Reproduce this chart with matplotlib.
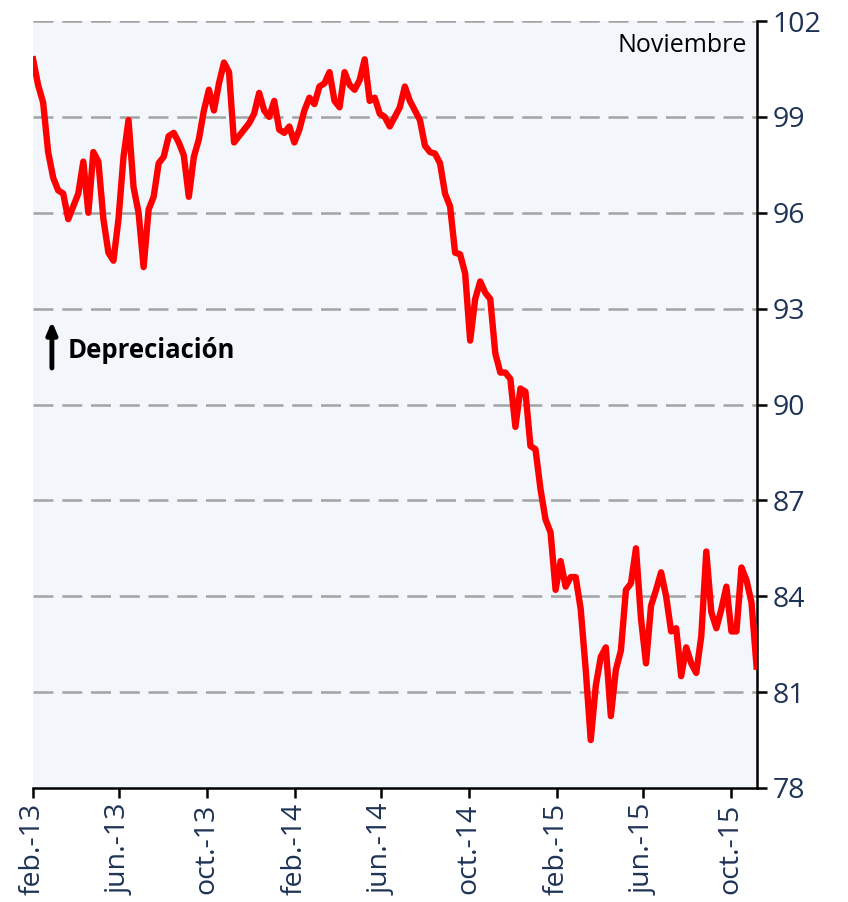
import pandas as pd
import numpy as np
import matplotlib
matplotlib.use('Agg')
import matplotlib.pyplot as plt

# Valores semanales (indice, base 100)
inicio = '2013-02-01'
valores = [
    100.8, 100.0, 99.45, 97.9, 97.1, 96.7, 96.6, 95.8, 96.2, 96.6,
    97.6, 96.0, 97.9, 97.6, 95.8, 94.75, 94.5, 95.8, 97.75, 98.9,
    96.8, 96.0, 94.3, 96.1, 96.5, 97.55, 97.75, 98.4, 98.5, 98.2,
    97.8, 96.5, 97.75, 98.3, 99.2, 99.85, 99.2, 100.05, 100.7, 100.4,
    98.2, 98.4, 98.6, 98.8, 99.1, 99.75, 99.2, 99.0, 99.5, 98.6,
    98.5, 98.7, 98.2, 98.6, 99.2, 99.6, 99.4, 99.95, 100.05, 100.4,
    99.5, 99.3, 100.4, 100.0, 99.85, 100.15, 100.8, 99.5, 99.6, 99.1,
    99.0, 98.7, 99.0, 99.3, 99.95, 99.5, 99.2, 98.9, 98.1, 97.9,
    97.85, 97.55, 96.6, 96.2, 94.75, 94.7, 94.1, 92.0, 93.3, 93.85,
    93.5, 93.3, 91.6, 91.0, 91.0, 90.8, 89.3, 90.5, 90.4, 88.7,
    88.6, 87.35, 86.4, 86.0, 84.2, 85.1, 84.3, 84.6, 84.6, 83.6,
    81.7, 79.5, 81.2, 82.1, 82.4, 80.25, 81.7, 82.3, 84.2, 84.4,
    85.5, 83.3, 81.9, 83.7, 84.2, 84.75, 84.0, 82.9, 83.0, 81.5,
    82.4, 81.9, 81.6, 82.75, 85.4, 83.5, 83.0, 83.6, 84.3, 82.9,
    82.9, 84.9, 84.5, 83.8, 81.8,
]
fechas = pd.date_range(inicio, periods=len(valores), freq='7D')

tick_fechas = pd.to_datetime(['2013-02-01', '2013-06-01', '2013-10-01',
                              '2014-02-01', '2014-06-01', '2014-10-01',
                              '2015-02-01', '2015-06-01', '2015-10-01'])
tick_etiquetas = ['feb.-13', 'jun.-13', 'oct.-13', 'feb.-14', 'jun.-14',
                  'oct.-14', 'feb.-15', 'jun.-15', 'oct.-15']
y_ticks = [78, 81, 84, 87, 90, 93, 96, 99, 102]

plt.rcParams['font.family'] = ['Open Sans', 'DejaVu Sans']

fig = plt.figure(figsize=(8.48, 9.02), dpi=100)
ax = fig.add_axes([0.039, 0.1264, 0.854, 0.8503])
ax.set_facecolor('#F3F7FC')

# Grilla horizontal punteada
for yv in y_ticks[1:]:
    ax.axhline(yv, color='#A3A3A3', linewidth=1.8, linestyle=(0, (8, 3.5)), zorder=1)

ax.plot(fechas, valores, color='#FF0000', linewidth=4.6, solid_joinstyle='round', zorder=3)

ax.set_xlim(pd.Timestamp('2013-02-01'), pd.Timestamp('2015-11-07'))
ax.set_ylim(78, 102)

ax.yaxis.tick_right()
ax.set_yticks(y_ticks)
ax.set_yticklabels([str(v) for v in y_ticks], fontsize=20.5, color='#1F3356')
ax.set_xticks(tick_fechas)
ax.set_xticklabels(tick_etiquetas, rotation=90, fontsize=20.5, color='#1F3356')

for s in ['left', 'top']:
    ax.spines[s].set_visible(False)
for s in ['right', 'bottom']:
    ax.spines[s].set_linewidth(1.8)
    ax.spines[s].set_color('black')
ax.tick_params(axis='both', direction='out', length=7, width=1.8, color='black', pad=4)

ax.text(0.985, 0.985, 'Noviembre', transform=ax.transAxes, ha='right', va='top',
        fontsize=18, color='black')
ax.annotate('', xy=(0.026, 0.612), xytext=(0.026, 0.544), xycoords='axes fraction',
            arrowprops=dict(arrowstyle='-|>,head_width=0.3,head_length=0.7', color='black', lw=3.5))
ax.text(0.048, 0.570, 'Depreciación', transform=ax.transAxes, ha='left', va='center',
        fontsize=18.5, fontweight='bold', color='black')

plt.savefig('out.png', dpi=100)
